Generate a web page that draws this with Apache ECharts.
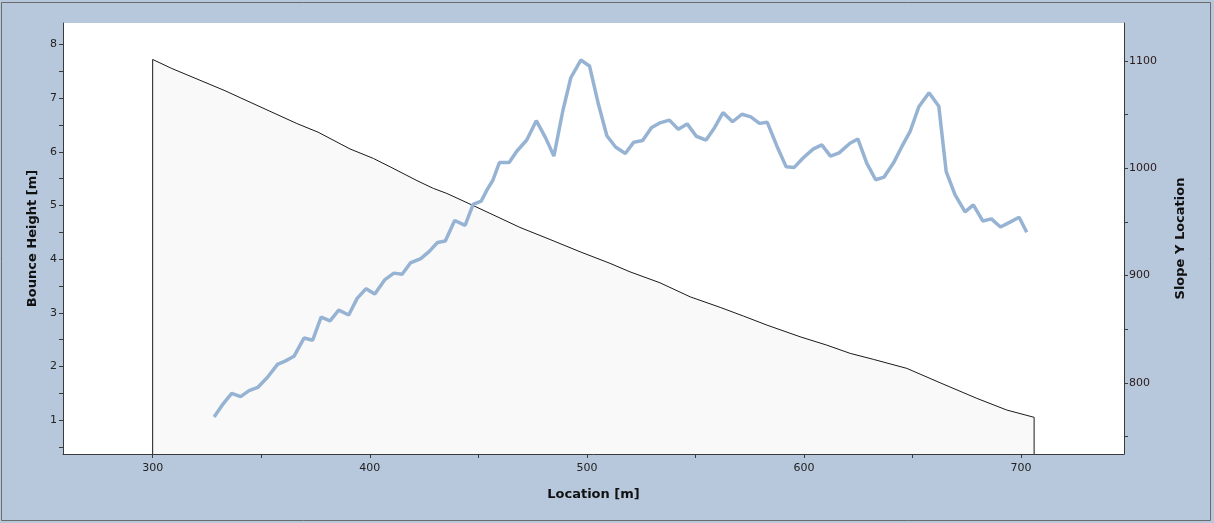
<!DOCTYPE html>
<html>
<head>
<meta charset="utf-8">
<script src="https://cdn.jsdelivr.net/npm/echarts@6/dist/echarts.min.js"></script>
<style>
  html, body { margin: 0; padding: 0; background: #ffffff; }
  #chart { width: 1214px; height: 523px; }
</style>
</head>
<body>
<div id="chart"></div>
<script>
// ---- data ----
const bounceX = [328.3,332.0,336.4,340.5,344.4,348.4,352.9,357.5,361.0,365.1,369.7,373.7,377.6,381.7,385.7,390.3,394.2,398.3,402.3,407.0,411.1,414.9,418.7,423.5,427.3,431.2,434.8,439.1,443.9,447.6,451.3,454.0,456.7,459.7,464.2,467.7,472.3,476.7,481.0,484.8,488.9,492.6,497.2,501.2,505.3,509.2,513.2,517.7,521.6,525.7,529.7,533.7,538.0,542.1,546.2,550.4,554.9,558.8,562.7,567.1,571.4,575.5,579.5,583.1,587.5,591.8,595.5,599.7,604.2,608.2,612.2,616.2,621.2,624.8,628.9,633.0,636.9,641.2,645.1,648.9,652.9,657.6,662.1,665.5,669.6,674.2,678.0,682.4,686.3,690.5,694.9,699.1,702.6];
const bounceHeight = [1.06,1.28,1.50,1.44,1.55,1.61,1.80,2.04,2.10,2.19,2.53,2.49,2.92,2.85,3.05,2.96,3.27,3.45,3.35,3.62,3.74,3.72,3.93,4.01,4.14,4.31,4.34,4.72,4.63,5.02,5.08,5.29,5.47,5.80,5.80,6.01,6.22,6.58,6.26,5.92,6.76,7.38,7.71,7.60,6.89,6.30,6.09,5.97,6.18,6.21,6.45,6.54,6.59,6.42,6.52,6.29,6.22,6.45,6.73,6.56,6.70,6.65,6.53,6.55,6.11,5.72,5.71,5.89,6.05,6.13,5.92,5.98,6.16,6.24,5.79,5.48,5.53,5.79,6.10,6.38,6.84,7.10,6.85,5.63,5.20,4.88,5.01,4.71,4.75,4.60,4.69,4.78,4.50];
const slopeX = [300.0,308.8,333.3,340.3,366.4,376.2,390.9,401.7,409.4,422.2,429.3,435.5,446.7,455.4,469.2,483.0,496.9,510.7,519.9,533.7,547.6,561.4,572.1,582.9,598.2,610.5,621.3,632.0,647.4,662.7,679.6,693.4,706.0];
const slopeY = [1101.4,1093.0,1072.3,1065.8,1041.7,1033.6,1018.0,1009.1,1001.3,988.0,981.2,976.5,966.1,957.9,944.8,933.6,922.1,911.3,903.4,893.2,880.1,870.3,862.2,853.8,842.9,835.1,827.4,821.8,813.4,800.0,785.5,774.6,767.8];
const xTicks = [300,350,400,450,500,550,600,650,700];
const xLabels = [300,400,500,600,700];
const leftTicks = [0.5,1,1.5,2,2.5,3,3.5,4,4.5,5,5.5,6,6.5,7,7.5,8];
const leftLabels = [1,2,3,4,5,6,7,8];
const rightTicks = [750,800,850,900,950,1000,1050,1100];
const rightLabels = [800,900,1000,1100];

const X_MIN = 258.7, X_MAX = 747.4;
const L_MIN = 0.37, L_MAX = 8.40;
const R_MIN = 733.6, R_MAX = 1135.4;

const bounceData = bounceX.map((x, i) => [x, bounceHeight[i]]);
const slopeData = [[slopeX[0], R_MIN]]
  .concat(slopeX.map((x, i) => [x, slopeY[i]]))
  .concat([[slopeX[slopeX.length - 1], R_MIN]]);

const FONT = "'DejaVu Sans', Verdana, sans-serif";
const axisCol = '#3a3a3a';
const plain = v => String(v);

const chart = echarts.init(document.getElementById('chart'), null, { renderer: 'canvas' });
chart.setOption({
  backgroundColor: '#b7c8dc',
  animation: false,
  textStyle: { fontFamily: FONT },
  graphic: [{
    type: 'rect',
    shape: { x: 1.5, y: 2.5, width: 1209, height: 518 },
    style: { fill: 'none', stroke: '#6b6b6b', lineWidth: 1 },
    silent: true, z: 100
  }],
  grid: {
    left: 63, top: 23, width: 1061, height: 431,
    containLabel: false, outerBoundsMode: 'none',
    show: true, backgroundColor: '#ffffff', borderWidth: 0
  },
  xAxis: {
    type: 'value', min: X_MIN, max: X_MAX,
    name: 'Location [m]', nameLocation: 'middle', nameGap: 34,
    nameTextStyle: { fontFamily: FONT, fontWeight: 'bold', fontSize: 13, color: '#111' },
    axisLine: { show: true, lineStyle: { color: axisCol, width: 1 } },
    axisTick: { show: true, length: 4, customValues: xTicks, lineStyle: { color: axisCol } },
    axisLabel: { customValues: xLabels, formatter: plain, margin: 9, fontFamily: FONT, fontSize: 11, color: '#222' },
    splitLine: { show: false }
  },
  yAxis: [{
    type: 'value', position: 'left', min: L_MIN, max: L_MAX,
    name: 'Bounce Height [m]', nameLocation: 'middle', nameGap: 21.5, nameRotate: 90,
    nameTextStyle: { fontFamily: FONT, fontWeight: 'bold', fontSize: 13, color: '#111' },
    axisLine: { show: true, lineStyle: { color: axisCol, width: 1 } },
    axisTick: { show: true, length: 4, customValues: leftTicks, lineStyle: { color: axisCol } },
    axisLabel: { customValues: leftLabels, formatter: plain, margin: 6, fontFamily: FONT, fontSize: 11, color: '#222' },
    splitLine: { show: false }
  }, {
    type: 'value', position: 'right', min: R_MIN, max: R_MAX,
    name: 'Slope Y Location', nameLocation: 'middle', nameGap: 50.5, nameRotate: 90,
    nameTextStyle: { fontFamily: FONT, fontWeight: 'bold', fontSize: 13, color: '#111' },
    axisLine: { show: true, lineStyle: { color: axisCol, width: 1 } },
    axisTick: { show: true, length: 4, customValues: rightTicks, lineStyle: { color: axisCol } },
    axisLabel: { customValues: rightLabels, formatter: plain, margin: 5, fontFamily: FONT, fontSize: 11, color: '#2a1a1a' },
    splitLine: { show: false }
  }],
  series: [{
    name: 'Slope', type: 'line', yAxisIndex: 1, data: slopeData,
    showSymbol: false, symbol: 'none', z: 1,
    lineStyle: { color: '#1a1a1a', width: 1 },
    areaStyle: { color: '#f9f9f9', origin: 'start', opacity: 1 }
  }, {
    name: 'Bounce Height', type: 'line', yAxisIndex: 0, data: bounceData,
    showSymbol: false, symbol: 'none', z: 3,
    lineStyle: { color: '#97b3d3', width: 3.5 }
  }]
});
</script>
</body>
</html>
